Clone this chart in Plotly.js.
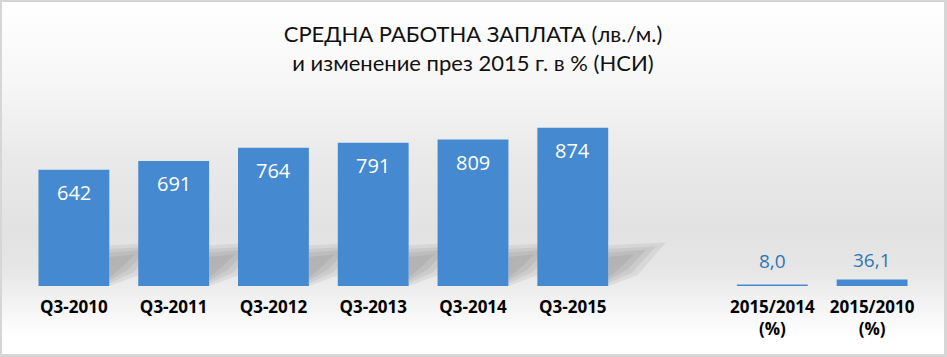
<!DOCTYPE html>
<html>
<head>
<meta charset="utf-8">
<script src="https://cdn.plot.ly/plotly-3.0.1.min.js"></script>
<style>
html,body{margin:0;padding:0;}
#wrap{width:947px;height:357px;box-sizing:border-box;border-style:solid;border-color:#d6d6d6;border-width:2px 3px 3px 2px;
background:linear-gradient(to bottom,#ffffff 0%,#f7f7f7 22%,#e9e9e9 45%,#e2e2e2 65%,#e6e6e6 76%,#f6f6f6 88%,#ffffff 95%);}
#chart{width:942px;height:352px;}
</style>
</head>
<body>
<div id="wrap"><div id="chart"></div></div>
<script>
const categories = ["Q3-2010","Q3-2011","Q3-2012","Q3-2013","Q3-2014","Q3-2015"," ","2015/2014<br>(%)","2015/2010<br>(%)"];
const wages = [642, 691, 764, 791, 809, 874];
const changes = [8.0, 36.1];

const wageCats = categories.slice(0, 6);
const changeCats = categories.slice(7);
const fmt = v => v.toFixed(1).replace('.', ',');

const traces = [
  {type:'bar', x: wageCats, y: wages, marker:{color:'#4589d0'}, hoverinfo:'none'},
  {type:'bar', x: changeCats, y: changes, marker:{color:'#4589d0'}, hoverinfo:'none'}
];

const annotations = [];
wageCats.forEach((c,i)=>annotations.push({x:c, y:wages[i], xref:'x', yref:'y', text:String(wages[i]), showarrow:false, yanchor:'top', yshift:-7, font:{family:'Open Sans, sans-serif', size:20, color:'#ffffff'}}));
changeCats.forEach((c,i)=>annotations.push({x:c, y:changes[i], xref:'x', yref:'y', text:fmt(changes[i]), showarrow:false, yanchor:'bottom', yshift:i===0?9:4, font:{family:'Open Sans, sans-serif', size:19, color:'#2e75b6'}}));

// soft diagonal floor shadows behind the wage bars
const shapes = [];
wageCats.forEach((c,i)=>{
  const r = i + 0.355;
  const layers = [[0.58, 225, 0], [0.48, 205, 15], [0.38, 185, 30], [0.26, 160, 45]];
  layers.forEach(([ext, top, bot])=>{
    shapes.push({type:'path', xref:'x', yref:'y', layer:'below', line:{width:0}, fillcolor:'rgba(80,80,80,0.09)',
      path:`M ${r} ${bot} L ${r} ${top} L ${r+ext} ${top+15} L ${r+ext*0.5} ${bot+60} Z`});
  });
});

const layout = {
  width:942, height:352,
  margin:{l:21.5, r:21.5, t:103, b:68},
  paper_bgcolor:'rgba(0,0,0,0)', plot_bgcolor:'rgba(0,0,0,0)',
  title:{text:'СРЕДНА РАБОТНА ЗАПЛАТА (лв./м.)<br>и изменение през 2015 г. в % (НСИ)', x:0.5, xanchor:'center', y:0.885, yanchor:'top',
    font:{family:'Lato, sans-serif', size:22, color:'#111111'}},
  showlegend:false,
  barmode:'overlay',
  bargap:0.29,
  xaxis:{type:'category', categoryorder:'array', categoryarray:categories, range:[-0.5, 8.5], showgrid:false, zeroline:false, showline:false, ticks:'',
    ticklabelstandoff:9,
    tickfont:{family:'Open Sans, sans-serif', size:17, color:'#000000', weight:'bold'}, fixedrange:true},
  yaxis:{range:[0,1000], visible:false, fixedrange:true},
  annotations, shapes
};
Plotly.newPlot('chart', traces, layout, {displayModeBar:false, staticPlot:true});
</script>
</body>
</html>
